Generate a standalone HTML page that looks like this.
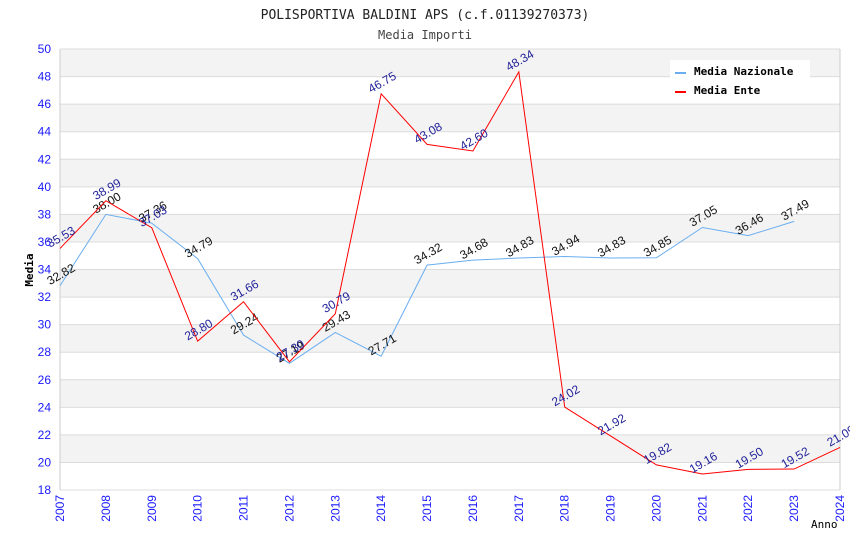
<!DOCTYPE html>
<html><head><meta charset="utf-8"><style>
body{margin:0;background:#fff;}
svg{display:block;font-family:"DejaVu Sans Mono","Liberation Mono",monospace;}
</style></head><body>
<svg id="chart" width="850" height="550">
<text x="425" y="19" text-anchor="middle" font-size="13" fill="#222">POLISPORTIVA BALDINI APS (c.f.01139270373)</text>
<text x="425" y="39" text-anchor="middle" font-size="12" fill="#444">Media Importi</text>
<g id="grid"></g>
<g id="axes"></g>
<g id="series"></g>
<text x="33" y="270" transform="rotate(-90 33 270)" text-anchor="middle" font-size="11" font-weight="bold" fill="#000">Media</text>
<text x="811" y="528" font-size="11" fill="#000">Anno</text>
<g>
<rect x="670" y="60" width="140" height="42" fill="#fff"/>
<rect x="675" y="72" width="11" height="2" fill="#6aaef0"/>
<text x="694" y="75" font-size="11" font-weight="bold" fill="#000">Media Nazionale</text>
<rect x="675" y="91" width="11" height="2" fill="#ff0000"/>
<text x="694" y="94" font-size="11" font-weight="bold" fill="#000">Media Ente</text>
</g>
</svg>
<script>
const years=[2007,2008,2009,2010,2011,2012,2013,2014,2015,2016,2017,2018,2019,2020,2021,2022,2023,2024];
const nazionale=[32.82,38.00,37.36,34.79,29.24,27.19,29.43,27.71,34.32,34.68,34.83,34.94,34.83,34.85,37.05,36.46,37.49];
const ente=[35.53,38.99,37.03,28.80,31.66,27.30,30.79,46.75,43.08,42.60,48.34,24.02,21.92,19.82,19.16,19.50,19.52,21.09];
const yTicks=[18,20,22,24,26,28,30,32,34,36,38,40,42,44,46,48,50];
const X0=60,X1=840,Y0=490,Y1=49,yMin=18,yMax=50;
const xs=i=>X0+(X1-X0)*(years[i]-years[0])/(years[years.length-1]-years[0]);
const ys=v=>Y0-(Y0-Y1)*(v-yMin)/(yMax-yMin);
const NS="http://www.w3.org/2000/svg";
function mk(tag,attrs,parent){const e=document.createElementNS(NS,tag);for(const k in attrs)e.setAttribute(k,attrs[k]);parent.appendChild(e);return e;}
const grid=document.getElementById('grid'),axes=document.getElementById('axes'),ser=document.getElementById('series');
for(let t=0;t<yTicks.length-1;t++){
  const a=yTicks[t],b=yTicks[t+1];
  const idxFromTop=yTicks.length-2-t;
  const r=mk('rect',{x:X0,y:ys(b),width:X1-X0,height:ys(a)-ys(b),fill:idxFromTop%2===0?'#f3f3f3':'#ffffff'},grid);
  
  
}
yTicks.forEach(v=>{
  const l=mk('line',{x1:X0,x2:X1,y1:ys(v),y2:ys(v),stroke:'#dcdcdc','stroke-width':1},grid);
  
  
  const t=mk('text',{x:X0-9,y:ys(v)+4,'text-anchor':'end','font-size':12,fill:'#1a1aff','font-family':'Liberation Sans, sans-serif'},axes);
  t.textContent=v;
  
  
});
mk('line',{x1:X0,x2:X0,y1:Y1,y2:Y0,stroke:'#ccc'},axes);
mk('line',{x1:X1,x2:X1,y1:Y1,y2:Y0,stroke:'#ccc'},axes);
years.forEach((yr,i)=>{
  const x=xs(i);
  const t=mk('text',{x:x+4,y:Y0+5,'text-anchor':'end','font-size':12,fill:'#1a1aff','font-family':'Liberation Sans, sans-serif',transform:`rotate(-90 ${x+4} ${Y0+5})`},axes);
  t.textContent=yr;
  
  
});
function series(vals,color,labelColor,name){
  const pts=vals.map((v,i)=>xs(i)+','+ys(v)).join(' ');
  const p=mk('polyline',{points:pts,fill:'none',stroke:color,'stroke-width':1},ser);
  
  
  vals.forEach((v,i)=>{
    const x=xs(i)+3,y=ys(v)-8;
    const t=mk('text',{x:x,y:y,'text-anchor':'middle','font-size':12,fill:labelColor,'font-family':'Liberation Sans, sans-serif',transform:`rotate(-30 ${x} ${y})`},ser);
    t.textContent=v.toFixed(2);
    
    
  });
}
series(nazionale,'#6aaef0','#111','nazionale');
series(ente,'#ff0000','#22229a','ente');
</script>
</body></html>
